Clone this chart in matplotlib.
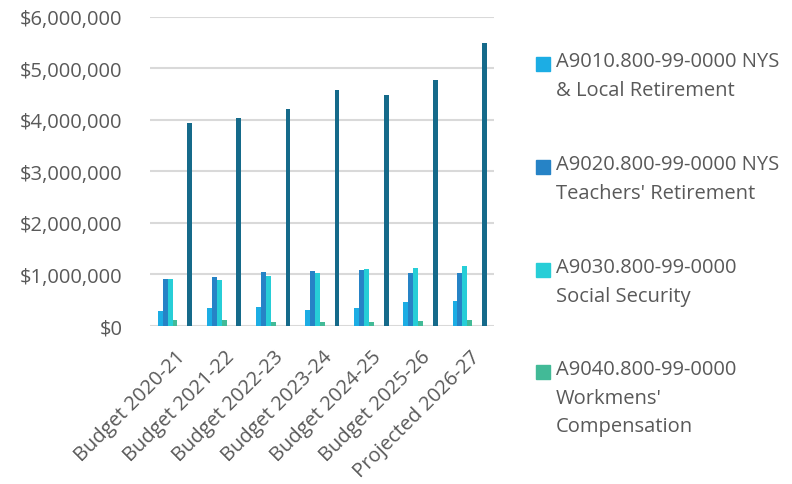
import matplotlib.pyplot as plt
import matplotlib.ticker as mticker
import numpy as np
from matplotlib.patches import Rectangle

plt.rcParams['font.family'] = ['Open Sans', 'DejaVu Sans']

categories = ["Budget 2020-21", "Budget 2021-22", "Budget 2022-23", "Budget 2023-24",
              "Budget 2024-25", "Budget 2025-26", "Projected 2026-27"]

nys_local = [290000, 340000, 360000, 310000, 340000, 470000, 490000]
teachers = [920000, 955000, 1040000, 1060000, 1080000, 1020000, 1020000]
social_sec = [910000, 900000, 970000, 1020000, 1100000, 1120000, 1170000]
workmens = [110000, 110000, 85000, 70000, 77000, 97000, 110000]
total = [3940000, 4040000, 4220000, 4580000, 4490000, 4780000, 5500000]

legend_labels = ["A9010.800-99-0000 NYS\n& Local Retirement",
                 "A9020.800-99-0000 NYS\nTeachers' Retirement",
                 "A9030.800-99-0000\nSocial Security",
                 "A9040.800-99-0000\nWorkmens'\nCompensation"]

colors = ["#1CADE4", "#2683C6", "#27CED7", "#42BA97"]
total_color = "#156A8A"
text_color = "#595959"
fs = 14.5

fig = plt.figure(figsize=(7.92, 4.85), dpi=100)
ax = fig.add_axes([0.19, 0.326, 0.434, 0.637])

x = np.arange(len(categories))
n_slots = 7          # Excel layout: 4 shown series, 2 empty slots, total
bw = 0.7 / n_slots * 0.98
offsets = (np.arange(n_slots) - (n_slots - 1) / 2) * (0.7 / n_slots)

series = [nys_local, teachers, social_sec, workmens]
for i, vals in enumerate(series):
    ax.bar(x + offsets[i], vals, width=bw, color=colors[i], zorder=3)
ax.bar(x + offsets[6], total, width=bw, color=total_color, zorder=3)

ax.set_xlim(-0.5, len(categories) - 0.5)
ax.set_ylim(0, 6000000)
ax.yaxis.set_major_locator(mticker.MultipleLocator(1000000))
ax.yaxis.set_major_formatter(mticker.StrMethodFormatter("${x:,.0f}"))
ax.grid(axis="y", color="#D9D9D9", linewidth=1.5, zorder=0)
for s in ax.spines.values():
    s.set_visible(False)
ax.tick_params(length=0, labelsize=fs, colors=text_color)
ax.tick_params(axis="y", pad=20)
ax.set_xticks(x)
ax.set_xticklabels(categories, rotation=45, ha="right", va="top", rotation_mode="anchor")
ax.tick_params(axis="x", pad=15)

# legend drawn manually so the marker sits on the first line like Excel
W, H = 792, 485
first_lines = [65, 168, 271, 373]
for lab, col, yc in zip(legend_labels, colors, first_lines):
    fig.patches.append(Rectangle((536 / W, 1 - (yc + 7) / H), 14 / W, 14 / H,
                                 transform=fig.transFigure, color=col))
    fig.text(556 / W, 1 - (yc - 13) / H, lab, fontsize=fs, color=text_color,
             va="top", ha="left", linespacing=1.58)

fig.savefig("out.png", dpi=100)
